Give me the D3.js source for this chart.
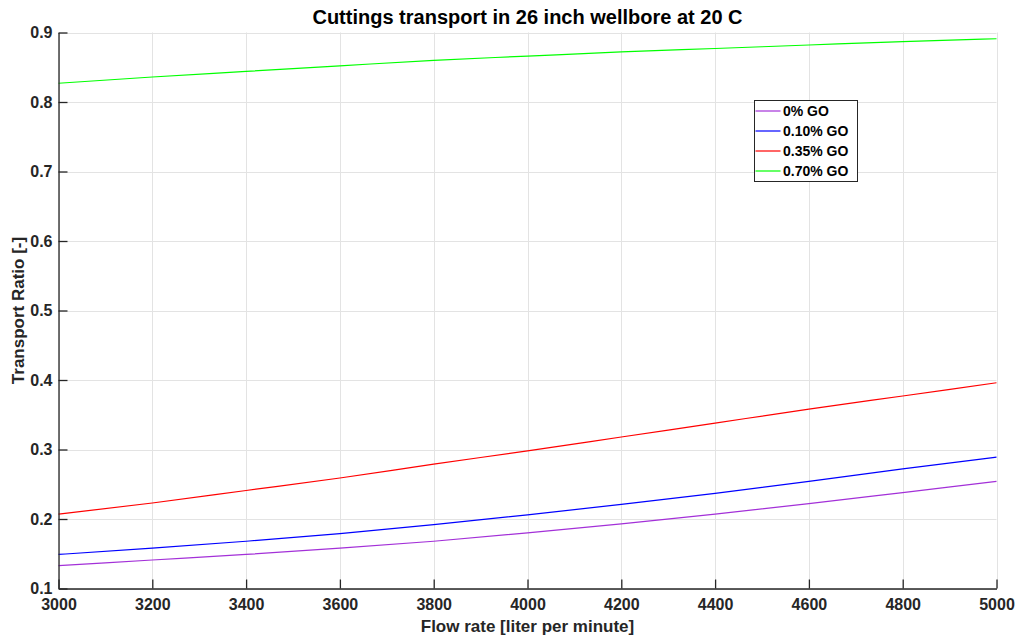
<!DOCTYPE html>
<html>
<head>
<meta charset="utf-8">
<script src="https://cdn.jsdelivr.net/npm/d3@7"></script>
<style>
  html, body { margin: 0; padding: 0; background: #fff; }
  svg { display: block; font-family: "Liberation Sans", Arial, sans-serif; }
</style>
</head>
<body>
<svg id="chart" width="1018" height="638"></svg>
<script>
// Flow rates (liter per minute)
const flowRates = [3000, 3200, 3400, 3600, 3800, 4000, 4200, 4400, 4600, 4800, 5000];

// Transport ratio for each graphene oxide concentration
const go0   = [0.133, 0.141, 0.149, 0.158, 0.168, 0.180, 0.193, 0.207, 0.222, 0.238, 0.254];
const go010 = [0.149, 0.158, 0.168, 0.179, 0.192, 0.206, 0.221, 0.237, 0.254, 0.272, 0.289];
const go035 = [0.207, 0.223, 0.241, 0.259, 0.279, 0.298, 0.318, 0.338, 0.358, 0.377, 0.396];
const go070 = [0.827, 0.836, 0.844, 0.852, 0.860, 0.866, 0.872, 0.877, 0.882, 0.887, 0.891];

const seriesNames = ["0% GO", "0.10% GO", "0.35% GO", "0.70% GO"];
const seriesColors = ["#A330D8", "#0000FF", "#FF0000", "#00FF00"];
const seriesValues = [go0, go010, go035, go070];

const xTicks = [3000, 3200, 3400, 3600, 3800, 4000, 4200, 4400, 4600, 4800, 5000];
const yTicks = [0.1, 0.2, 0.3, 0.4, 0.5, 0.6, 0.7, 0.8, 0.9];

const svg = d3.select("#chart");
const plotLeft = 58.5, plotRight = 996.5, plotTop = 32.5, plotBottom = 588.5;

const x = d3.scaleLinear().domain([3000, 5000]).range([plotLeft, plotRight]);
const y = d3.scaleLinear().domain([0.1, 0.9]).range([plotBottom, plotTop]);

const textColor = "#262626";

// Grid
const grid = svg.append("g");
grid.selectAll("line.gx").data(xTicks).join("line")
  .attr("x1", d => Math.round(x(d)) + 0.5).attr("x2", d => Math.round(x(d)) + 0.5)
  .attr("y1", plotTop).attr("y2", plotBottom)
  .attr("stroke", "#e3e3e3").attr("stroke-width", 1);
grid.selectAll("line.gy").data(yTicks).join("line")
  .attr("x1", plotLeft).attr("x2", plotRight)
  .attr("y1", d => Math.round(y(d)) + 0.5).attr("y2", d => Math.round(y(d)) + 0.5)
  .attr("stroke", "#e3e3e3").attr("stroke-width", 1);

// Series lines
const line = d3.line()
  .x((d, i) => x(flowRates[i]))
  .y(d => y(d))
  .curve(d3.curveMonotoneX);

svg.append("g").selectAll("path").data(seriesValues).join("path")
  .attr("d", d => line(d))
  .attr("fill", "none")
  .attr("stroke", (d, i) => seriesColors[i])
  .attr("stroke-width", 1.2);

// Axes (ticks point inward)
const xAxis = svg.append("g").attr("transform", `translate(0,${plotBottom})`)
  .call(d3.axisBottom(x).tickValues(xTicks).tickFormat(d3.format("d")).tickSizeInner(-9).tickSizeOuter(0).tickPadding(0));
const yAxis = svg.append("g").attr("transform", `translate(${plotLeft},0)`)
  .call(d3.axisLeft(y).tickValues(yTicks).tickFormat(d3.format(".1f")).tickSizeInner(-9).tickSizeOuter(0).tickPadding(6));

[xAxis, yAxis].forEach(a => {
  a.select(".domain").attr("stroke", textColor).attr("stroke-width", 1.3);
  a.selectAll(".tick line").attr("stroke", textColor).attr("stroke-width", 1.3);
  a.selectAll(".tick text")
    .attr("fill", textColor)
    .style("font-family", "'Liberation Sans', Arial, sans-serif")
    .style("font-size", "16px")
    .style("font-weight", "bold");
});
xAxis.selectAll(".tick text").attr("y", 21).attr("dy", null);

// Title
svg.append("text")
  .attr("x", (plotLeft + plotRight) / 2).attr("y", 24)
  .attr("text-anchor", "middle")
  .attr("fill", "#000")
  .style("font-size", "20px").style("font-weight", "bold")
  .text("Cuttings transport in 26 inch wellbore at 20 C");

// Axis labels
svg.append("text")
  .attr("x", (plotLeft + plotRight) / 2).attr("y", 632)
  .attr("text-anchor", "middle")
  .attr("fill", textColor)
  .style("font-size", "17px").style("font-weight", "bold")
  .text("Flow rate [liter per minute]");

svg.append("text")
  .attr("transform", `translate(24,${(plotTop + plotBottom) / 2}) rotate(-90)`)
  .attr("text-anchor", "middle")
  .attr("fill", textColor)
  .style("font-size", "17px").style("font-weight", "bold")
  .text("Transport Ratio [-]");

// Legend
const legend = svg.append("g").attr("transform", "translate(754.5,100.5)");
legend.append("rect")
  .attr("width", 103).attr("height", 81)
  .attr("fill", "#fff").attr("stroke", "#262626").attr("stroke-width", 1);
const items = legend.selectAll("g.item").data(seriesNames).join("g")
  .attr("transform", (d, i) => `translate(0,${10.5 + i * 20})`);
items.append("line")
  .attr("x1", 1).attr("x2", 26).attr("y1", 0).attr("y2", 0)
  .attr("stroke", (d, i) => seriesColors[i]).attr("stroke-width", 1.2);
items.append("text")
  .attr("x", 28.5).attr("y", 0).attr("dy", "0.36em")
  .attr("fill", "#000")
  .style("font-size", "14px").style("font-weight", "bold")
  .text(d => d);
</script>
</body>
</html>
